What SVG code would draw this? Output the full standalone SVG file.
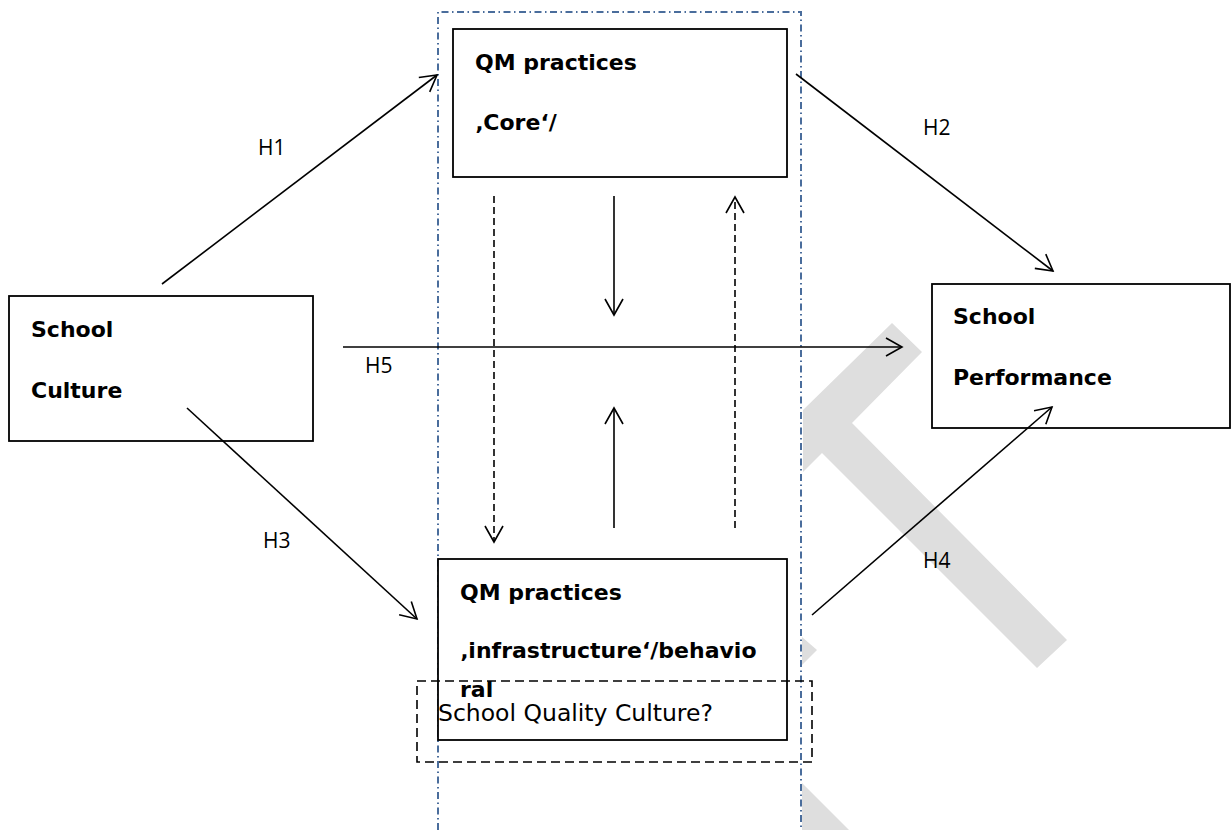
<svg xmlns="http://www.w3.org/2000/svg" width="1232" height="830" viewBox="0 0 1232 830">
<style>
.box{fill:#fff;stroke:#000;stroke-width:1.8}
.lbl{font-family:"DejaVu Sans",Verdana,sans-serif;font-weight:bold;font-size:22px;fill:#000}
.reg{font-family:"DejaVu Sans",Verdana,sans-serif;font-size:23.5px;fill:#000}
.h{font-family:"Open Sans","Liberation Sans",sans-serif;font-size:21px;fill:#000}
.ln{stroke:#000;stroke-width:1.6;fill:none}
.dash{stroke-dasharray:7 4}
.wm{fill:#dedede}
</style>
<defs>
<marker id="ah" markerUnits="userSpaceOnUse" markerWidth="40" markerHeight="40" viewBox="-20 -20 40 40" refX="0" refY="0" orient="auto">
<path d="M-16,-9 L0,0 L-16,9" fill="none" stroke="#000" stroke-width="1.6" stroke-dasharray="none"/>
</marker>
</defs>
<rect width="1232" height="830" fill="#fff"/>
<g id="watermark">
<polygon class="wm" points="803,410 892,323 922,352 852,423 1067,640 1037,668 822,453 803,472"/>
<polygon class="wm" points="802,637 817,650 802,665"/>
<polygon class="wm" points="802,783 849,830 802,830"/>
</g>
<g id="column">
<path d="M438,830 L438,12 L801,12 L801,830" fill="#fff" stroke="#4a6d9c" stroke-width="2" stroke-dasharray="7 3.5 1.5 3.5"/>
</g>
<g id="node-qm-core">
<rect class="box" x="453" y="29" width="334" height="148"/>
<text class="lbl" x="475" y="70">QM practices</text>
<text class="lbl" x="475" y="130">‚Core‘/</text>
</g>
<g id="node-school-culture">
<rect class="box" x="9" y="296" width="304" height="145"/>
<text class="lbl" x="31" y="337">School</text>
<text class="lbl" x="31" y="398">Culture</text>
</g>
<g id="node-school-performance">
<rect class="box" x="932" y="284" width="298" height="144"/>
<text class="lbl" x="953" y="324">School</text>
<text class="lbl" x="953" y="385">Performance</text>
</g>
<g id="node-qm-infra">
<rect class="box" x="438" y="559" width="349" height="181"/>
<text class="lbl" x="460" y="600">QM practices</text>
<text class="lbl" x="460" y="658">‚infrastructure‘/behavio</text>
<text class="lbl" x="460" y="697">ral</text>
</g>
<g id="node-quality-culture">
<rect x="417" y="681" width="395" height="81" fill="none" stroke="#000" stroke-width="1.6" stroke-dasharray="9 5"/>
<text class="reg" x="438" y="721">School Quality Culture?</text>
</g>
<g id="connectors">
<line class="ln" x1="162" y1="284" x2="437" y2="75" marker-end="url(#ah)"/>
<line class="ln" x1="796" y1="74" x2="1053" y2="271" marker-end="url(#ah)"/>
<line class="ln" x1="187" y1="408" x2="417" y2="619" marker-end="url(#ah)"/>
<line class="ln" x1="812" y1="615" x2="1052" y2="407" marker-end="url(#ah)"/>
<line class="ln" x1="343" y1="347" x2="902" y2="347" marker-end="url(#ah)"/>
<line class="ln dash" x1="494" y1="196" x2="494" y2="542" marker-end="url(#ah)"/>
<line class="ln" x1="614" y1="196" x2="614" y2="315" marker-end="url(#ah)"/>
<line class="ln dash" x1="735" y1="528" x2="735" y2="197" marker-end="url(#ah)"/>
<line class="ln" x1="614" y1="528" x2="614" y2="408" marker-end="url(#ah)"/>
</g>
<g id="labels">
<text class="h" x="258" y="155">H1</text>
<text class="h" x="923" y="135">H2</text>
<text class="h" x="263" y="548">H3</text>
<text class="h" x="923" y="568">H4</text>
<text class="h" x="365" y="373">H5</text>
</g>
</svg>
